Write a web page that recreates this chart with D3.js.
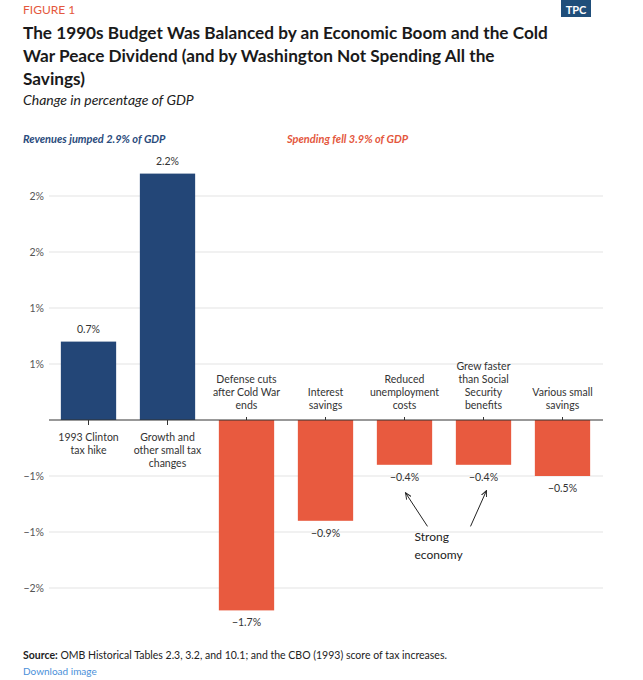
<!DOCTYPE html>
<html><head><meta charset="utf-8">
<script src="https://cdn.jsdelivr.net/npm/d3@7"></script>
<style>
body{margin:0;background:#fff;font-family:Lato,"Open Sans",sans-serif;}
</style></head>
<body><div id="chart"></div>
<script>
// DATA
const categories = ["1993 Clinton tax hike", "Growth and other small tax changes", "Defense cuts after Cold War ends",
  "Interest savings", "Reduced unemployment costs", "Grew faster than Social Security benefits", "Various small savings"];
const catLines = [["1993 Clinton", "tax hike"], ["Growth and", "other small tax", "changes"], ["Defense cuts", "after Cold War", "ends"],
  ["Interest", "savings"], ["Reduced", "unemployment", "costs"], ["Grew faster", "than Social", "Security", "benefits"], ["Various small", "savings"]];
const values = [0.7, 2.2, -1.7, -0.9, -0.4, -0.4, -0.5];
const valueLabels = ["0.7%", "2.2%", "\u22121.7%", "\u22120.9%", "\u22120.4%", "\u22120.4%", "\u22120.5%"];
const yTicks = [2, 1.5, 1, 0.5, -0.5, -1, -1.5];
const yTickLabels = ["2%", "2%", "1%", "1%", "\u22121%", "\u22121%", "\u22122%"];

const W = 643, H = 680;
const blue = "#234677", orange = "#e85a3f";

const svg = d3.select("#chart").append("svg").attr("width", W).attr("height", H);

// header
svg.append("text").attr("x", 23).attr("y", 14).attr("fill", "#e4573d").attr("font-size", 12).text("FIGURE 1");
svg.append("rect").attr("x", 561).attr("y", 0).attr("width", 30).attr("height", 17).attr("fill", "#1f4e7a");
svg.append("text").attr("x", 576).attr("y", 14).attr("text-anchor", "middle").attr("fill", "#fff")
  .attr("font-size", 11).attr("font-weight", 700).text("TPC");
const title = ["The 1990s Budget Was Balanced by an Economic Boom and the Cold",
  "War Peace Dividend (and by Washington Not Spending All the", "Savings)"];
svg.append("g").selectAll("text").data(title).join("text")
  .attr("x", 23).attr("y", (d, i) => 39 + i * 23)
  .attr("fill", "#1a1a1a").attr("font-size", 17.2).attr("font-weight", 700).text(d => d);
svg.append("text").attr("x", 23).attr("y", 105).attr("font-style", "italic").attr("font-size", 14)
  .attr("fill", "#222").text("Change in percentage of GDP");
svg.append("text").attr("x", 23).attr("y", 143).attr("font-style", "italic").attr("font-weight", 700)
  .attr("font-size", 11).attr("fill", "#2a4b7c").text("Revenues jumped 2.9% of GDP");
svg.append("text").attr("x", 287).attr("y", 143).attr("font-style", "italic").attr("font-weight", 700)
  .attr("font-size", 11).attr("fill", "#e4573d").text("Spending fell 3.9% of GDP");

// scales
const x = d3.scaleBand().domain(categories).range([49, 602]).paddingInner(0.3).paddingOuter(0.15);
const y = d3.scaleLinear().domain([-1.7, 2.2]).range([610.4, 173.6]);

// grid
const grid = svg.append("g");
grid.selectAll("line").data(yTicks).join("line")
  .attr("x1", 49).attr("x2", 603).attr("y1", d => y(d)).attr("y2", d => y(d))
  .attr("stroke", "#e3e3e3").attr("stroke-width", 1);
grid.selectAll("text").data(yTicks).join("text")
  .attr("x", 44).attr("y", d => y(d) + 4).attr("text-anchor", "end")
  .attr("font-size", 10.5).attr("fill", "#555").text((d, i) => yTickLabels[i]);

// bars
svg.append("g").selectAll("rect").data(values).join("rect")
  .attr("x", (d, i) => x(categories[i])).attr("width", x.bandwidth())
  .attr("y", d => y(Math.max(0, d))).attr("height", d => Math.abs(y(d) - y(0)))
  .attr("fill", d => d > 0 ? blue : orange);

// zero axis + ticks
svg.append("line").attr("x1", 49).attr("x2", 603).attr("y1", y(0)).attr("y2", y(0)).attr("stroke", "#333");
svg.append("g").selectAll("line").data(categories).join("line")
  .attr("x1", d => x(d) + x.bandwidth() / 2).attr("x2", d => x(d) + x.bandwidth() / 2)
  .attr("y1", (d, i) => values[i] > 0 ? y(0) : y(0) - 3).attr("y2", (d, i) => values[i] > 0 ? y(0) + 5 : y(0))
  .attr("stroke", "#333");

// category labels
categories.forEach((c, i) => {
  const cx = x(c) + x.bandwidth() / 2;
  const lines = catLines[i];
  const g = svg.append("text").attr("text-anchor", "middle").attr("font-size", 10.5).attr("fill", "#333");
  lines.forEach((l, j) => {
    const yy = values[i] > 0 ? y(0) + 21 + j * 13 : y(0) - 11 - (lines.length - 1 - j) * 13;
    g.append("tspan").attr("x", cx).attr("y", yy).text(l);
  });
});

// value labels
svg.append("g").selectAll("text").data(values).join("text")
  .attr("x", (d, i) => x(categories[i]) + x.bandwidth() / 2)
  .attr("y", d => d > 0 ? y(d) - 9 : y(d) + 16)
  .attr("text-anchor", "middle").attr("font-size", 10.5).attr("fill", "#333")
  .text((d, i) => valueLabels[i]);

// annotation arrows
svg.append("defs").append("marker").attr("id", "ah").attr("viewBox", "0 0 10 10")
  .attr("refX", 9).attr("refY", 5).attr("markerWidth", 7).attr("markerHeight", 7).attr("orient", "auto")
  .append("path").attr("d", "M0,1 L9,5 L0,9").attr("fill", "none").attr("stroke", "#222").attr("stroke-width", 1.3);
const c4 = x(categories[4]) + x.bandwidth() / 2, c5 = x(categories[5]) + x.bandwidth() / 2;
svg.append("line").attr("x1", c4 + 23).attr("y1", y(-0.95)).attr("x2", c4 + 1).attr("y2", y(-0.65))
  .attr("stroke", "#222").attr("marker-end", "url(#ah)");
svg.append("line").attr("x1", c5 - 13).attr("y1", y(-0.95)).attr("x2", c5 + 3).attr("y2", y(-0.63))
  .attr("stroke", "#222").attr("marker-end", "url(#ah)");
const ann = svg.append("text").attr("font-size", 12).attr("fill", "#222");
ann.append("tspan").attr("x", c4 + 10).attr("y", y(-1.08)).text("Strong");
ann.append("tspan").attr("x", c4 + 10).attr("y", y(-1.08) + 18).text("economy");

// footer
const src = svg.append("text").attr("x", 23).attr("y", 659).attr("font-size", 10.5).attr("fill", "#222");
src.append("tspan").attr("font-weight", 700).text("Source:");
src.append("tspan").text(" OMB Historical Tables 2.3, 3.2, and 10.1; and the CBO (1993) score of tax increases.");
svg.append("text").attr("x", 23).attr("y", 675).attr("font-size", 10).attr("fill", "#4a90d9").text("Download image");
</script></body></html>
